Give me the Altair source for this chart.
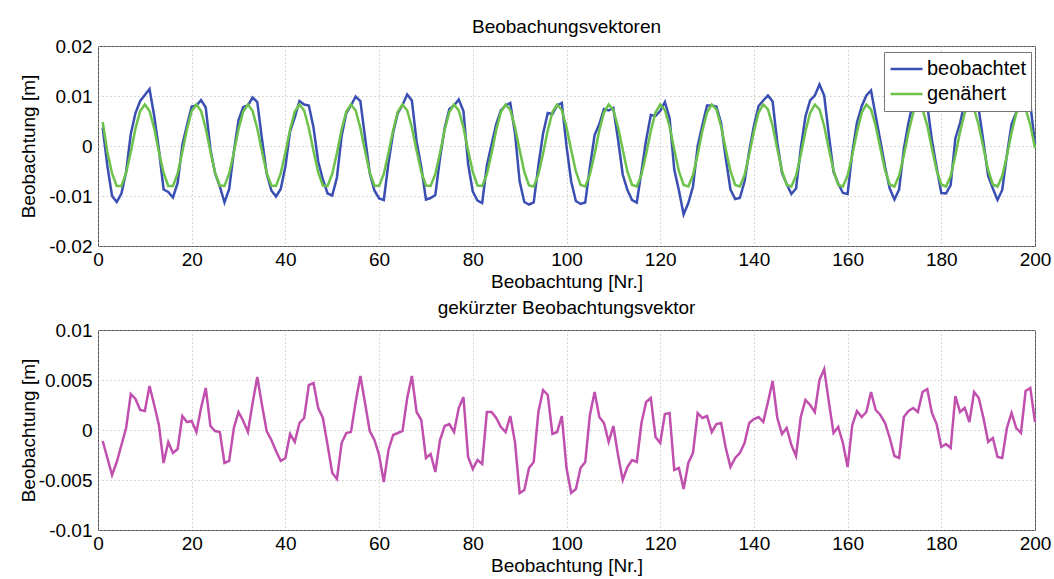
import altair as alt
import pandas as pd

# ---------------- data ----------------
nr = list(range(1, 201))

beobachtet = [
    0.0037, -0.0040, -0.0100, -0.0112, -0.0095, -0.0052, 0.0024, 0.0066, 0.0090, 0.0102,
    0.0114, 0.0060, -0.0007, -0.0087, -0.0092, -0.0103, -0.0074, 0.0002, 0.0042, 0.0079,
    0.0081, 0.0092, 0.0077, -0.0007, -0.0055, -0.0081, -0.0113, -0.0086, -0.0011, 0.0052,
    0.0078, 0.0081, 0.0097, 0.0088, 0.0014, -0.0055, -0.0089, -0.0101, -0.0086, -0.0041,
    0.0029, 0.0057, 0.0090, 0.0083, 0.0081, 0.0037, -0.0031, -0.0067, -0.0095, -0.0099,
    -0.0063, 0.0020, 0.0066, 0.0081, 0.0099, 0.0090, 0.0017, -0.0054, -0.0089, -0.0105,
    -0.0108, -0.0034, 0.0027, 0.0066, 0.0082, 0.0103, 0.0091, 0.0009, -0.0042, -0.0107,
    -0.0104, -0.0098, -0.0024, 0.0036, 0.0074, 0.0081, 0.0093, 0.0070, -0.0036, -0.0091,
    -0.0109, -0.0114, -0.0039, 0.0003, 0.0044, 0.0071, 0.0081, 0.0086, 0.0026, -0.0071,
    -0.0112, -0.0117, -0.0113, -0.0039, 0.0025, 0.0066, 0.0064, 0.0081, 0.0086, 0.0000,
    -0.0071, -0.0110, -0.0116, -0.0113, -0.0042, 0.0022, 0.0044, 0.0074, 0.0071, 0.0076,
    0.0013, -0.0057, -0.0088, -0.0108, -0.0113, -0.0051, 0.0012, 0.0062, 0.0060, 0.0070,
    0.0088, 0.0056, -0.0047, -0.0089, -0.0137, -0.0114, -0.0081, 0.0000, 0.0042, 0.0081,
    0.0081, 0.0079, 0.0046, -0.0025, -0.0087, -0.0106, -0.0104, -0.0071, -0.0010, 0.0040,
    0.0080, 0.0091, 0.0101, 0.0089, 0.0006, -0.0054, -0.0076, -0.0096, -0.0085, -0.0005,
    0.0059, 0.0091, 0.0101, 0.0123, 0.0101, 0.0022, -0.0052, -0.0075, -0.0094, -0.0096,
    -0.0013, 0.0047, 0.0079, 0.0101, 0.0111, 0.0060, 0.0010, -0.0042, -0.0085, -0.0107,
    -0.0087, -0.0006, 0.0047, 0.0088, 0.0101, 0.0111, 0.0082, 0.0012, -0.0043, -0.0094,
    -0.0095, -0.0078, 0.0015, 0.0046, 0.0088, 0.0091, 0.0112, 0.0073, 0.0008, -0.0060,
    -0.0085, -0.0108, -0.0088, -0.0018, 0.0044, 0.0067, 0.0080, 0.0113, 0.0084, 0.0004,
]

genaehert = [
    0.0048, -0.0012, -0.0055, -0.0080, -0.0080, -0.0054, -0.0012, 0.0035, 0.0070, 0.0083,
    0.0070, 0.0035, -0.0012, -0.0054, -0.0080, -0.0080, -0.0055, -0.0012, 0.0034, 0.0070,
    0.0083, 0.0070, 0.0035, -0.0011, -0.0054, -0.0079, -0.0080, -0.0055, -0.0013, 0.0034,
    0.0069, 0.0083, 0.0070, 0.0035, -0.0011, -0.0054, -0.0079, -0.0080, -0.0055, -0.0013,
    0.0033, 0.0069, 0.0083, 0.0071, 0.0036, -0.0010, -0.0053, -0.0079, -0.0080, -0.0056,
    -0.0014, 0.0033, 0.0069, 0.0083, 0.0071, 0.0036, -0.0010, -0.0053, -0.0079, -0.0080,
    -0.0056, -0.0014, 0.0032, 0.0069, 0.0083, 0.0071, 0.0037, -0.0009, -0.0052, -0.0079,
    -0.0080, -0.0056, -0.0014, 0.0032, 0.0068, 0.0083, 0.0071, 0.0037, -0.0009, -0.0052,
    -0.0079, -0.0080, -0.0057, -0.0015, 0.0032, 0.0068, 0.0083, 0.0072, 0.0038, -0.0008,
    -0.0052, -0.0079, -0.0081, -0.0057, -0.0015, 0.0031, 0.0068, 0.0083, 0.0072, 0.0038,
    -0.0008, -0.0051, -0.0078, -0.0081, -0.0057, -0.0016, 0.0031, 0.0067, 0.0083, 0.0072,
    0.0038, -0.0007, -0.0051, -0.0078, -0.0081, -0.0058, -0.0016, 0.0030, 0.0067, 0.0083,
    0.0072, 0.0039, -0.0007, -0.0051, -0.0078, -0.0081, -0.0058, -0.0017, 0.0030, 0.0067,
    0.0083, 0.0073, 0.0039, -0.0007, -0.0050, -0.0078, -0.0081, -0.0058, -0.0017, 0.0029,
    0.0067, 0.0083, 0.0073, 0.0040, -0.0006, -0.0050, -0.0078, -0.0081, -0.0059, -0.0018,
    0.0029, 0.0066, 0.0083, 0.0073, 0.0040, -0.0006, -0.0049, -0.0078, -0.0081, -0.0059,
    -0.0018, 0.0028, 0.0066, 0.0083, 0.0073, 0.0040, -0.0005, -0.0049, -0.0077, -0.0081,
    -0.0059, -0.0019, 0.0028, 0.0066, 0.0083, 0.0073, 0.0041, -0.0005, -0.0049, -0.0077,
    -0.0081, -0.0060, -0.0019, 0.0028, 0.0066, 0.0083, 0.0074, 0.0041, -0.0004, -0.0048,
    -0.0077, -0.0081, -0.0060, -0.0020, 0.0027, 0.0065, 0.0083, 0.0074, 0.0042, -0.0004,
]

gekuerzt = [
    -0.0011, -0.0028, -0.0045, -0.0032, -0.0015, 0.0002, 0.0036, 0.0031, 0.0020, 0.0019,
    0.0044, 0.0025, 0.0005, -0.0033, -0.0012, -0.0023, -0.0019, 0.0014, 0.0008, 0.0009,
    -0.0002, 0.0022, 0.0042, 0.0004, -0.0001, -0.0002, -0.0033, -0.0031, 0.0002, 0.0018,
    0.0009, -0.0002, 0.0027, 0.0053, 0.0025, -0.0001, -0.0010, -0.0021, -0.0031, -0.0028,
    -0.0004, -0.0012, 0.0007, 0.0012, 0.0045, 0.0047, 0.0022, 0.0012, -0.0015, -0.0043,
    -0.0049, -0.0013, -0.0003, -0.0002, 0.0028, 0.0054, 0.0027, -0.0001, -0.0010, -0.0025,
    -0.0052, -0.0020, -0.0005, -0.0003, -0.0001, 0.0032, 0.0054, 0.0018, 0.0010, -0.0028,
    -0.0024, -0.0042, -0.0010, 0.0004, 0.0006, -0.0002, 0.0022, 0.0033, -0.0027, -0.0039,
    -0.0030, -0.0034, 0.0018, 0.0018, 0.0012, 0.0003, -0.0002, 0.0014, -0.0012, -0.0063,
    -0.0060, -0.0038, -0.0032, 0.0018, 0.0040, 0.0035, -0.0004, -0.0002, 0.0014, -0.0038,
    -0.0063, -0.0059, -0.0038, -0.0032, 0.0015, 0.0038, 0.0013, 0.0007, -0.0012, 0.0004,
    -0.0025, -0.0050, -0.0037, -0.0030, -0.0032, 0.0007, 0.0028, 0.0032, -0.0007, -0.0013,
    0.0016, 0.0017, -0.0040, -0.0038, -0.0059, -0.0033, -0.0023, 0.0017, 0.0012, 0.0014,
    -0.0002, 0.0006, 0.0007, -0.0018, -0.0037, -0.0028, -0.0023, -0.0013, 0.0007, 0.0011,
    0.0013, 0.0008, 0.0028, 0.0049, 0.0012, -0.0004, 0.0002, -0.0015, -0.0026, 0.0013,
    0.0030, 0.0025, 0.0018, 0.0050, 0.0061, 0.0028, -0.0003, 0.0003, -0.0013, -0.0037,
    0.0005, 0.0019, 0.0013, 0.0018, 0.0038, 0.0020, 0.0015, 0.0007, -0.0008, -0.0026,
    -0.0028, 0.0013, 0.0019, 0.0022, 0.0018, 0.0038, 0.0041, 0.0017, 0.0006, -0.0017,
    -0.0014, -0.0018, 0.0034, 0.0018, 0.0022, 0.0008, 0.0038, 0.0032, 0.0012, -0.0012,
    -0.0008, -0.0027, -0.0028, 0.0002, 0.0017, 0.0002, -0.0003, 0.0039, 0.0042, 0.0008,
]

series_names = ["beobachtet", "genähert"]
x_ticks = [0, 20, 40, 60, 80, 100, 120, 140, 160, 180, 200]
y_ticks_top = [-0.02, -0.01, 0, 0.01, 0.02]
y_ticks_bot = [-0.01, -0.005, 0, 0.005, 0.01]

# ---------------- style ----------------
FONT = "Liberation Sans"
FS = 19
BLUE = "#3a4fb2"
GREEN = "#6cc24a"
MAGENTA = "#c04fae"
W, H = 937, 200

top_df = pd.DataFrame({
    "Nr": nr + nr,
    "Wert": beobachtet + genaehert,
    "Serie": [series_names[0]] * len(nr) + [series_names[1]] * len(nr),
})
bot_df = pd.DataFrame({"Nr": nr, "Wert": gekuerzt})


def x_axis():
    return alt.Axis(values=x_ticks, title="Beobachtung [Nr.]", grid=True,
                    ticks=False, domain=False, labelPadding=4, titlePadding=0,
                    titleY=26, labelFlush=False)


def y_axis(vals):
    return alt.Axis(values=vals, title="Beobachtung [m]", grid=True,
                    ticks=False, domain=False, labelPadding=6,
                    labelExpr="toString(datum.value)", titleX=-60)


top = alt.Chart(
    top_df,
    title=alt.TitleParams("Beobachungsvektoren", offset=0),
).mark_line(strokeWidth=2.5).encode(
    x=alt.X("Nr:Q", scale=alt.Scale(domain=[0, 200], nice=False), axis=x_axis()),
    y=alt.Y("Wert:Q", scale=alt.Scale(domain=[-0.02, 0.02], nice=False),
            axis=y_axis(y_ticks_top)),
    color=alt.Color(
        "Serie:N",
        scale=alt.Scale(domain=series_names, range=[BLUE, GREEN]),
        legend=alt.Legend(title=None, orient="none", legendX=786, legendY=6,
                          fillColor="white", strokeColor="#777", padding=5,
                          rowPadding=1, clipHeight=24, labelFontSize=20,
                          labelFont=FONT, symbolType="stroke", symbolSize=1024,
                          symbolStrokeWidth=2.5, labelOffset=3),
    ),
).properties(width=W, height=H)

bottom = alt.Chart(
    bot_df,
    title=alt.TitleParams("gekürzter Beobachtungsvektor", offset=3),
).mark_line(strokeWidth=2.5, color=MAGENTA).encode(
    x=alt.X("Nr:Q", scale=alt.Scale(domain=[0, 200], nice=False), axis=x_axis()),
    y=alt.Y("Wert:Q", scale=alt.Scale(domain=[-0.01, 0.01], nice=False),
            axis=y_axis(y_ticks_bot)),
).properties(width=W, height=H)

chart = alt.vconcat(top, bottom, spacing=6).properties(
    padding={"left": 18, "top": 17, "right": 0, "bottom": 0},
    background="white",
).configure_axis(
    labelFont=FONT, titleFont=FONT, labelFontSize=FS, titleFontSize=FS,
    titleFontWeight="normal", labelColor="black", titleColor="black",
    gridColor="#b0b0b0", gridDash=[1, 3], gridWidth=1,
).configure_title(
    font=FONT, fontSize=FS, fontWeight="normal", color="black",
).configure_view(
    stroke="#555", strokeWidth=1,
)

chart.save("out.html", embed_options={"renderer": "svg", "actions": False})
